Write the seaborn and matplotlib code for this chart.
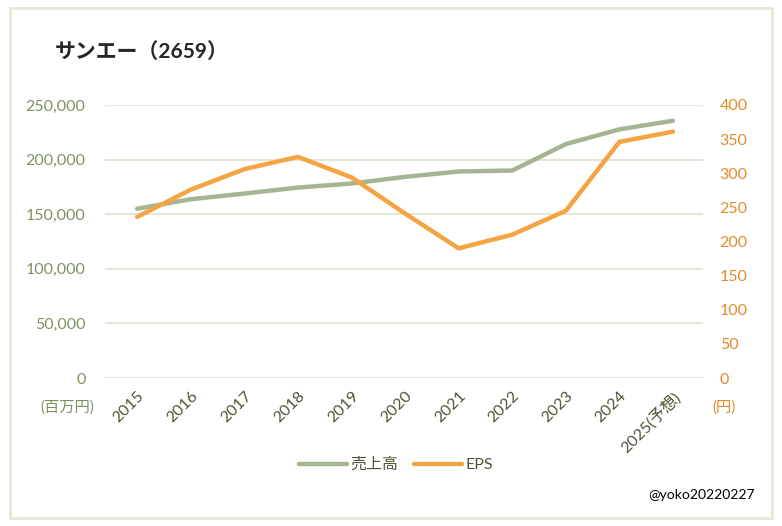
import pandas as pd
import matplotlib
matplotlib.use("Agg")
import matplotlib.pyplot as plt
import seaborn as sns
from matplotlib.patches import Rectangle
from matplotlib.ticker import FuncFormatter, MultipleLocator

years = ['2015', '2016', '2017', '2018', '2019', '2020', '2021', '2022', '2023', '2024', '2025(予想)']
sales = [155000, 163700, 168900, 174400, 178100, 184200, 189100, 190000, 214200, 227700, 235600]
eps = [236, 276, 306, 324, 294, 241, 190, 210, 245, 346, 361]

df = pd.DataFrame({'year': years, 'sales': sales, 'eps': eps})
df['pos'] = range(len(df))

sns.set_style('white')
plt.rcParams['font.family'] = ['Lato', 'Noto Sans CJK JP', 'DejaVu Sans']

green = '#A5B592'
orange = '#F4A442'
grid_c = '#E4E7D6'

fig = plt.figure(figsize=(7.82, 5.26), dpi=100)
fig.patches.append(Rectangle((10 / 782, 1 - 518 / 526), 762 / 782, 510 / 526, transform=fig.transFigure,
                             fill=False, edgecolor='#E6E8D8', lw=2))

ax = fig.add_axes([105 / 782, 1 - 378 / 526, 598 / 782, 273 / 526])
sns.lineplot(data=df, x='pos', y='sales', ax=ax, color=green, lw=3.2, label='売上高', legend=False,
             solid_capstyle='round', solid_joinstyle='round')
ax.set_ylim(0, 250000)
ax.set_xlim(-0.6, 10.56)
ax.yaxis.set_major_locator(MultipleLocator(50000))
ax.yaxis.set_major_formatter(FuncFormatter(lambda v, p: f'{int(v):,}'))
ax.grid(axis='y', color=grid_c, lw=1.5)
ax.set_axisbelow(True)
ax.tick_params(axis='y', colors='#7F9162', labelsize=11.5, length=0, pad=14)
ax.set_xticks(df['pos'])
ax.set_xticklabels(years, rotation=45, ha='right', rotation_mode='anchor')
ax.tick_params(axis='x', colors='#4F5435', labelsize=11.5, length=0, pad=8)
ax.set_xlabel('')
ax.set_ylabel('')
for s in ax.spines.values():
    s.set_visible(False)

ax2 = ax.twinx()
sns.lineplot(data=df, x='pos', y='eps', ax=ax2, color=orange, lw=3.2, label='EPS', legend=False,
             solid_capstyle='round', solid_joinstyle='round')
ax2.set_ylim(0, 400)
ax2.yaxis.set_major_locator(MultipleLocator(50))
ax2.tick_params(axis='y', colors='#E48A2A', labelsize=11.5, length=0, pad=12)
ax2.set_ylabel('')
for s in ax2.spines.values():
    s.set_visible(False)

fig.text(55 / 782, 1 - 52 / 526, 'サンエー（2659）', fontsize=15, fontweight='bold', va='center', ha='left')
fig.text(40 / 782, 1 - 408 / 526, '(百万円)', fontsize=11, color='#7F9162', va='center', ha='left')
fig.text(712 / 782, 1 - 408 / 526, '(円)', fontsize=11, color='#E48A2A', va='center', ha='left')
fig.text(755 / 782, 1 - 495 / 526, '@yoko20220227', fontsize=10, color='black', va='center', ha='right')

h1, l1 = ax.get_legend_handles_labels()
h2, l2 = ax2.get_legend_handles_labels()
fig.legend(h1 + h2, l1 + l2, loc='center', bbox_to_anchor=(396 / 782, 1 - 465 / 526), ncol=2,
           frameon=False, fontsize=11.5, handlelength=3, columnspacing=1.0, handletextpad=0.2,
           labelcolor='#4F5435')

fig.savefig('out.png', dpi=100)
